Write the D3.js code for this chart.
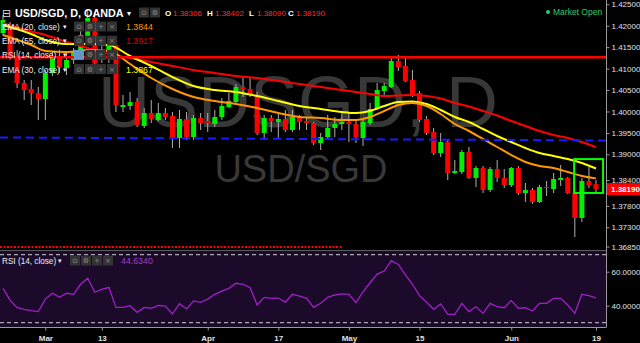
<!DOCTYPE html>
<html><head><meta charset="utf-8">
<script src="https://cdn.jsdelivr.net/npm/d3@7"></script>
<style>
html,body{margin:0;padding:0;background:#000;overflow:hidden}
svg{display:block;font-family:"Liberation Sans",Arial,sans-serif}
</style></head><body>
<svg id="c" width="640" height="343"></svg>
<script>
const dates = ["02-21","02-22","02-23","02-24","02-27","02-28",
"03-01","03-02","03-03","03-06","03-07","03-08","03-09","03-10","03-13","03-14","03-15","03-16","03-17","03-20","03-21","03-22","03-23","03-24","03-27","03-28","03-29","03-30","03-31",
"04-03","04-04","04-05","04-06","04-07","04-10","04-11","04-12","04-13","04-14","04-17","04-18","04-19","04-20","04-21","04-24","04-25","04-26","04-27","04-28",
"05-01","05-02","05-03","05-04","05-05","05-08","05-09","05-10","05-11","05-12","05-15","05-16","05-17","05-18","05-19","05-22","05-23","05-24","05-25","05-26","05-29","05-30","05-31",
"06-01","06-02","06-05","06-06","06-07","06-08","06-09","06-12","06-13","06-14","06-15","06-16","06-19"];

const open = [1.41830,1.41970,1.41247,1.40664,1.40525,1.40431,1.40291,1.40898,1.41271,1.41014,
1.41201,1.41387,1.41737,1.42180,1.41201,1.41387,1.41551,1.40105,1.40128,1.40221,
1.39662,1.39965,1.39802,1.39965,1.39895,1.39382,1.39825,1.39405,1.39848,1.39778,
1.39708,1.39872,1.40105,1.40221,1.40571,1.40525,1.40385,1.39498,1.39848,1.39755,
1.39825,1.39568,1.39872,1.39778,1.39732,1.39265,1.39405,1.39615,1.39708,1.39755,
1.39708,1.39382,1.39732,1.40058,1.40478,1.40571,1.41178,1.41061,1.40734,1.40431,
1.39825,1.39522,1.39032,1.39289,1.38566,1.38589,1.39055,1.38449,1.38682,1.38169,
1.38659,1.38449,1.38286,1.38682,1.38099,1.38169,1.37889,1.38239,1.38192,1.38402,
1.38449,1.38099,1.37516,1.38379,1.38306];
const high = [1.42250,1.42087,1.41434,1.40734,1.40734,1.40571,1.40968,1.41387,1.41434,1.41364,
1.41481,1.41900,1.42367,1.42320,1.41551,1.41667,1.41621,1.40385,1.40455,1.40315,
1.40081,1.40268,1.40198,1.40081,1.39988,1.40035,1.39988,1.39918,1.39965,1.39965,
1.40035,1.40315,1.40431,1.40641,1.40804,1.40804,1.40455,1.39918,1.39918,1.39965,
1.40035,1.40035,1.39918,1.39872,1.39755,1.39498,1.39918,1.39872,1.39965,1.39965,
1.39802,1.39802,1.40198,1.40664,1.40664,1.41271,1.41317,1.41294,1.40968,1.40478,
1.39895,1.39615,1.39498,1.39335,1.38869,1.39102,1.39172,1.38729,1.38729,1.38706,
1.38869,1.38659,1.38706,1.38729,1.38332,1.38216,1.38286,1.38379,1.38566,1.38752,
1.38472,1.38123,1.38449,1.38706,1.38402];
const low = [1.41760,1.41201,1.40548,1.40268,1.40151,1.39802,1.39802,1.40828,1.40898,1.40851,
1.41108,1.41247,1.41667,1.40898,1.41131,1.41131,1.39988,1.39988,1.40035,1.39638,
1.39615,1.39732,1.39778,1.39802,1.39149,1.39149,1.39335,1.39335,1.39568,1.39522,
1.39638,1.39802,1.40081,1.40198,1.40338,1.40338,1.39452,1.39335,1.39522,1.39382,
1.39522,1.39522,1.39568,1.39568,1.39219,1.39102,1.39335,1.39405,1.39568,1.39289,
1.39265,1.39195,1.39685,1.40035,1.40385,1.40548,1.40944,1.40688,1.40338,1.39755,
1.39452,1.38985,1.38939,1.38402,1.38542,1.38542,1.38426,1.38239,1.38099,1.38123,
1.38356,1.38216,1.38239,1.38053,1.37889,1.37843,1.37866,1.38029,1.38099,1.38262,
1.38076,1.37073,1.37423,1.38216,1.38090];
const close = [1.42134,1.41294,1.40664,1.40501,1.40431,1.40291,1.40898,1.41271,1.41038,1.41201,
1.41387,1.41784,1.42180,1.41131,1.41387,1.41551,1.40151,1.40151,1.40221,1.39685,
1.39965,1.39825,1.39965,1.39872,1.39382,1.39825,1.39405,1.39848,1.39732,1.39732,
1.39872,1.40128,1.40245,1.40571,1.40501,1.40385,1.39498,1.39848,1.39778,1.39825,
1.39568,1.39872,1.39755,1.39732,1.39265,1.39405,1.39615,1.39708,1.39755,1.39708,
1.39405,1.39755,1.40058,1.40501,1.40595,1.41178,1.41038,1.40711,1.40385,1.39802,
1.39498,1.39032,1.39289,1.38566,1.38612,1.39055,1.38449,1.38682,1.38169,1.38659,
1.38449,1.38286,1.38682,1.38099,1.38169,1.37889,1.38239,1.38216,1.38426,1.38449,
1.38099,1.37516,1.38379,1.38286,1.38190];

const rsi = [50.2,43.3,38.8,37.9,37.1,36.5,43.9,47.3,44.9,47.3,
46.7,52.6,56.1,47.9,49.6,50.8,39.0,39.0,40.0,36.1,
39.0,38.5,40.2,39.8,35.1,41.2,38.1,42.8,42.0,43.9,
46.7,48.6,50.2,53.2,52.6,50.6,40.4,44.9,44.3,44.5,
42.0,46.7,45.7,44.3,39.0,41.4,44.9,46.3,46.9,46.7,
41.8,48.2,53.5,58.6,60.4,66.5,64.3,58.1,52.6,45.9,
42.0,37.9,41.0,34.9,34.9,41.4,36.5,39.4,35.5,41.4,
39.4,38.8,43.0,38.5,38.8,36.9,41.4,41.4,44.3,44.3,
40.4,35.5,46.7,45.9,44.634];

const emaIdx = [0,4,6,9,12,15,18,21,24,27,30,33,36,39,42,45,48,50,52,54,56,58,60,62,64,66,68,70,72,74,76,78,80,82,84];
const ema20 = [1.41784,1.41551,1.41411,1.41387,1.41434,1.41411,1.41108,1.40781,1.40525,1.40338,1.40245,1.40175,1.40081,1.39965,1.39872,1.39848,1.39802,1.39802,1.39872,1.40012,1.40151,1.40198,1.40128,1.39942,1.39708,1.39545,1.39359,1.39172,1.38985,1.38822,1.38729,1.38682,1.38589,1.38496,1.3844];
const ema30 = [1.42017,1.41807,1.41667,1.41574,1.41574,1.41551,1.41294,1.41061,1.40804,1.40594,1.40501,1.40455,1.40361,1.40245,1.40128,1.40058,1.39988,1.39965,1.40012,1.40128,1.40221,1.40233,1.40175,1.40035,1.39872,1.39755,1.39592,1.39428,1.39289,1.39149,1.39032,1.38962,1.38892,1.38799,1.3867];
const ema55 = [1.42064,1.41865,1.41784,1.41621,1.41481,1.41341,1.41247,1.41154,1.41061,1.40968,1.40898,1.40828,1.40781,1.40711,1.40641,1.40571,1.40501,1.40455,1.40408,1.40361,1.40373,1.40385,1.40361,1.40303,1.40198,1.40116,1.40012,1.39907,1.39778,1.39662,1.39545,1.39452,1.39382,1.39289,1.3917];

const resistance = 1.41263;
const trendline = [1.39394, 1.39324];
const dottedLevel = 1.3684;
const boxRange = [1.3889, 1.3810];

const priceTicks = [1.425,1.42,1.415,1.41,1.405,1.40,1.395,1.39,1.384,1.378,1.373,1.3685];
const rsiTicks = [60, 40];
const rsiBands = [70, 30];
const xTickDates = ["03-01","03-13","04-03","04-17","05-01","05-15","06-01","06-19"];
const xTickLabels = ["Mar","13","Apr","17","May","15","Jun","19"];
const lastPrice = 1.38190;
const ohlcLabels = ["O","H","L","C"];
const ohlcValues = ["1.38306","1.38402","1.38090","1.38190"];
const legendRows = [
  {name:"EMA (20, close)", value:"1.3844", color:"#ff9800"},
  {name:"EMA (55, close)", value:"1.3917", color:"#d40000"},
  {name:"RSI (14, close)", value:"", color:"#fff"},
  {name:"EMA (30, close)", value:"1.3867", color:"#ffff00"}
];

const PR = 606;
const svg = d3.select("#c");
svg.append("rect").attr("width",640).attr("height",343).attr("fill","#000");
svg.append("rect").attr("x",0).attr("y",251).attr("width",PR).attr("height",76).attr("fill","#1c0a2a");

const x = d3.scalePoint().domain(dates).range([3, 596]);
const step = x.step();
const xi = i => x(dates[0]) + i*step;
const y = d3.scaleLinear().domain([1.3677, 1.4260]).range([250, 0]);
const ry = d3.scaleLinear().domain([30,70]).range([322.7,254.7]);

// watermark
const wm = svg.append("g").attr("fill","#383838").attr("text-anchor","middle");
wm.append("text").attr("x",298).attr("y",127).attr("font-size",72).text("USDSGD, D");
wm.append("text").attr("x",301).attr("y",182).attr("font-size",38).text("USD/SGD");

const defs = svg.append("defs");
defs.append("clipPath").attr("id","pc").append("rect").attr("x",0).attr("y",0).attr("width",PR).attr("height",250);
const pg = svg.append("g").attr("clip-path","url(#pc)");

const candles = dates.map((d,i)=>({d,o:open[i],h:high[i],l:low[i],c:close[i]}));
pg.selectAll("line.w").data(candles).join("line").attr("class","w")
  .attr("x1",d=>x(d.d)).attr("x2",d=>x(d.d)).attr("y1",d=>y(d.h)).attr("y2",d=>y(d.l))
  .attr("stroke","#b0b0b0").attr("stroke-width",1);
pg.selectAll("rect.b").data(candles).join("rect").attr("class","b")
  .attr("x",d=>x(d.d)-2.5).attr("width",5)
  .attr("y",d=>y(Math.max(d.o,d.c))).attr("height",d=>Math.max(1,Math.abs(y(d.o)-y(d.c))))
  .attr("fill",d=>d.c>=d.o?"#00f000":"#ff0000");

const line = d3.line().x(d=>xi(d[0])).y(d=>y(d[1])).curve(d3.curveMonotoneX);
[[ema55,"#ff0000"],[ema30,"#ffff00"],[ema20,"#ff9800"]].forEach(([arr,col])=>{
  pg.append("path").attr("d",line(emaIdx.map((k,j)=>[k,arr[j]]))).attr("fill","none").attr("stroke",col).attr("stroke-width",2);
});
pg.append("line").attr("x1",0).attr("x2",PR).attr("y1",y(resistance)).attr("y2",y(resistance)).attr("stroke","#ff0000").attr("stroke-width",2.5);
pg.append("line").attr("x1",0).attr("x2",PR).attr("y1",y(trendline[0])).attr("y2",y(trendline[1])).attr("stroke","#1a1aff").attr("stroke-width",2).attr("stroke-dasharray","8,5");
pg.append("line").attr("x1",0).attr("x2",342).attr("y1",y(dottedLevel)).attr("y2",y(dottedLevel)).attr("stroke","#ff0000").attr("stroke-width",2).attr("stroke-dasharray","2,1.5");
pg.append("rect").attr("x",xi(80.9)).attr("width",xi(85)-xi(80.9)).attr("y",y(boxRange[0])).attr("height",y(boxRange[1])-y(boxRange[0]))
  .attr("fill","none").attr("stroke","#00ff00").attr("stroke-width",2);

// panel separator
svg.append("line").attr("x1",0).attr("x2",PR).attr("y1",250.5).attr("y2",250.5).attr("stroke","#5a5a5a");

// RSI
rsiBands.forEach(v=>svg.append("line").attr("x1",0).attr("x2",PR).attr("y1",ry(v)).attr("y2",ry(v)).attr("stroke","#d0d0d0").attr("stroke-dasharray","4,3"));
svg.append("path").attr("d",d3.line().x((d,i)=>xi(i)).y(d=>ry(d))(rsi)).attr("fill","none").attr("stroke","#a020c8").attr("stroke-width",1.3);

// axes frame
svg.append("line").attr("x1",PR+0.5).attr("x2",PR+0.5).attr("y1",0).attr("y2",327).attr("stroke","#999");
svg.append("line").attr("x1",0).attr("x2",PR+0.5).attr("y1",327.5).attr("y2",327.5).attr("stroke","#999");

const ya = svg.append("g").attr("transform",`translate(${PR+0.5},0)`)
  .call(d3.axisRight(y).tickValues(priceTicks).tickSize(3).tickFormat(d3.format(".5f")));
const ra = svg.append("g").attr("transform",`translate(${PR+0.5},0)`)
  .call(d3.axisRight(ry).tickValues(rsiTicks).tickSize(3).tickFormat(d3.format(".4f")));
const xa = svg.append("g").attr("transform","translate(0,327.5)")
  .call(d3.axisBottom(x).tickValues(xTickDates).tickSize(3).tickFormat((d,i)=>xTickLabels[i]));
[ya,ra,xa].forEach(g=>{
  g.select(".domain").remove();
  g.selectAll("line").attr("stroke","#999");
  g.selectAll("text").attr("fill","#e0e0e0").attr("font-size",8).attr("font-family","Liberation Sans, Arial, sans-serif");
});
ya.selectAll("text").attr("x",5);
ra.selectAll("text").attr("x",5);
xa.selectAll("text").attr("font-weight","bold").attr("dy","0.9em");

// last price tag
svg.append("rect").attr("x",607).attr("y",y(lastPrice)-6).attr("width",33).attr("height",12).attr("fill","#ff0000");
svg.append("text").attr("x",611).attr("y",y(lastPrice)+3).attr("fill","#fff").attr("font-size",8).attr("font-weight","bold").text(d3.format(".5f")(lastPrice));

// legend
const lg = svg.append("g");
function icons(g, x0, yc, syms, hl){
  syms.forEach((s,k)=>{
    g.append("rect").attr("x",x0+k*11).attr("y",yc-5).attr("width",10).attr("height",10).attr("fill",(hl&&k===0)?"#5d9bd8":"#333");
    g.append("text").attr("x",x0+k*11+5).attr("y",yc+2.5).attr("text-anchor","middle").attr("font-size",7).attr("fill","#8a8a8a")
      .attr("font-family","DejaVu Sans, sans-serif").text(s);
  });
}
lg.append("text").attr("x",2).attr("y",17).attr("font-size",11).attr("fill","#ddd").attr("font-family","DejaVu Sans, sans-serif").text("\u229F");
lg.append("text").attr("x",15).attr("y",17).attr("font-size",10.8).attr("font-weight","bold").attr("fill","#fff").text("USD/SGD, D, OANDA");
lg.append("text").attr("x",127).attr("y",16).attr("font-size",8).attr("fill","#fff").attr("font-family","DejaVu Sans, sans-serif").text("\u25BE");
icons(lg,139,12.5,["\u2299","\u2699"],false);
const ohlcX = [165,207,249,288];
ohlcLabels.forEach((l,k)=>{
  lg.append("text").attr("x",ohlcX[k]).attr("y",16).attr("font-size",8).attr("font-weight","bold").attr("fill","#fff").text(l);
  lg.append("text").attr("x",ohlcX[k]+8).attr("y",16).attr("font-size",8).attr("fill","#ff2a2a").text(ohlcValues[k]);
});
legendRows.forEach((r,k)=>{
  const yy = 30 + k*14.2;
  lg.append("text").attr("x",2).attr("y",yy).attr("font-size",8.2).attr("fill","#eee").text(r.name);
  lg.append("text").attr("x",63).attr("y",yy-1).attr("font-size",7).attr("fill","#eee").attr("font-family","DejaVu Sans, sans-serif").text("\u25BE");
  icons(lg,74,yy-3.5,["\u2299","\u2699","+","\u00D7"],k===2);
  if(r.value) lg.append("text").attr("x",126).attr("y",yy).attr("font-size",8.8).attr("fill",r.color).text(r.value);
});
lg.append("circle").attr("cx",548).attr("cy",12).attr("r",2).attr("fill","#2ecc71");
lg.append("text").attr("x",553).attr("y",15).attr("font-size",8.5).attr("fill","#2ecc71").text("Market Open");
// rsi legend
lg.append("text").attr("x",2).attr("y",264).attr("font-size",8.2).attr("fill","#eee").text("RSI (14, close)");
lg.append("text").attr("x",58).attr("y",263).attr("font-size",7).attr("fill","#eee").attr("font-family","DejaVu Sans, sans-serif").text("\u25BE");
icons(lg,70,260.5,["\u2299","\u2699","+","\u00D7"],false);
lg.append("text").attr("x",121).attr("y",264).attr("font-size",8.8).attr("fill","#a040c8").text(d3.format(".4f")(rsi[rsi.length-1]));
</script>
</body></html>
